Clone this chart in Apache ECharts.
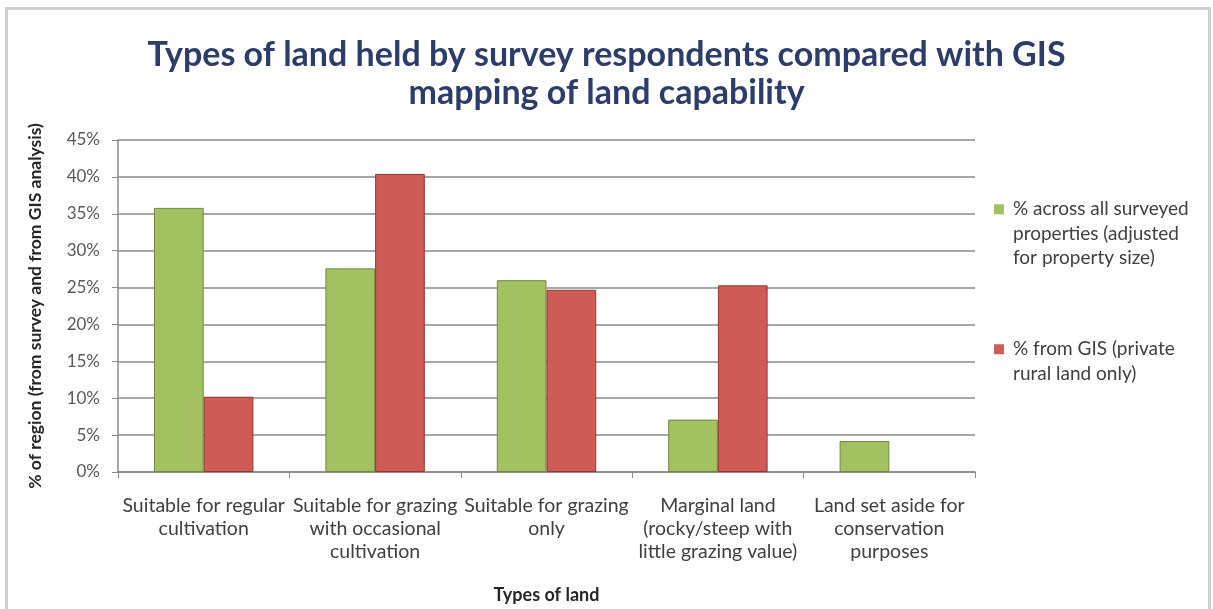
<!DOCTYPE html>
<html>
<head>
<meta charset="utf-8">
<script src="https://cdn.jsdelivr.net/npm/echarts@6/dist/echarts.min.js"></script>
<style>
  html, body { margin: 0; padding: 0; background: #ffffff; }
  #chart { width: 1213px; height: 609px; }
</style>
</head>
<body>
<div id="chart"></div>
<script>
// Land types (axis categories, wrapped the way they are printed)
const categories = [
  'Suitable for regular\ncultivation',
  'Suitable for grazing\nwith occasional\ncultivation',
  'Suitable for grazing\nonly',
  'Marginal land\n(rocky/steep with\nlittle grazing value)',
  'Land set aside for\nconservation\npurposes'
];

// Share of region, in percent
const surveyName = '% across all surveyed\nproperties (adjusted\nfor property size)';
const surveyValues = [35.8, 27.6, 26.0, 7.1, 4.2];

const gisName = '% from GIS (private\nrural land only)';
const gisValues = [10.2, 40.4, 24.7, 25.3, null];

// Value axis ticks
const yMin = 0;
const yMax = 45;
const yStep = 5;

const FONT = 'Lato, "Open Sans", sans-serif';
const GREEN = '#a3c160';
const RED = '#cf5b56';

// Legend marker: a 10px square sitting on the first text line
function markerPath(h) {
  return 'path://M0,0H10V10H0Z M0,' + (h - 0.1) + 'H0.1V' + h + 'H0Z';
}

const chart = echarts.init(document.getElementById('chart'), null, { renderer: 'canvas' });

chart.setOption({
  backgroundColor: '#ffffff',
  animation: false,
  title: {
    text: 'Types of land held by survey respondents compared with GIS\nmapping of land capability',
    left: 'center',
    top: 31,
    textStyle: {
      fontFamily: FONT,
      fontSize: 34,
      fontWeight: 'bold',
      color: '#2c3d6b',
      lineHeight: 38
    }
  },
  graphic: [{
    type: 'rect',
    shape: { x: 6.5, y: 8.5, width: 1203, height: 640 },
    style: { fill: 'none', stroke: '#cfcfcf', lineWidth: 3 },
    silent: true,
    z: -1
  }],
  legend: [{
    orient: 'vertical',
    left: 994,
    top: 197,
    padding: 0,
    itemWidth: 10,
    itemHeight: 59,
    icon: markerPath(59),
    data: [surveyName],
    itemStyle: { borderWidth: 0 },
    textStyle: { fontFamily: FONT, fontSize: 19, color: '#404040', lineHeight: 24.5, padding: [0, 0, 0, 4] }
  }, {
    orient: 'vertical',
    left: 994,
    top: 337,
    padding: 0,
    itemWidth: 10,
    itemHeight: 34.5,
    icon: markerPath(34.5),
    data: [gisName],
    itemStyle: { borderWidth: 0 },
    textStyle: { fontFamily: FONT, fontSize: 19, color: '#404040', lineHeight: 24.5, padding: [0, 0, 0, 4] }
  }],
  grid: {
    left: 118,
    right: 238,
    top: 140,
    bottom: 136,
    containLabel: false
  },
  xAxis: {
    type: 'category',
    data: categories,
    name: 'Types of land',
    nameLocation: 'middle',
    nameGap: 114,
    nameTextStyle: { fontFamily: FONT, fontSize: 18, fontWeight: 'bold', color: '#262626' },
    axisLine: { show: true, lineStyle: { color: '#8a8a8a', width: 1.5 } },
    axisTick: { show: true, length: 6, alignWithLabel: false, lineStyle: { color: '#8a8a8a' } },
    axisLabel: {
      interval: 0,
      margin: 22,
      fontFamily: FONT,
      fontSize: 19.5,
      color: '#404040',
      lineHeight: 23
    }
  },
  yAxis: {
    type: 'value',
    min: yMin,
    max: yMax,
    interval: yStep,
    name: '% of region (from survey and from GIS analysis)',
    nameLocation: 'middle',
    nameGap: 74,
    nameRotate: 90,
    nameTextStyle: { fontFamily: FONT, fontSize: 17.5, fontWeight: 'bold', color: '#262626' },
    axisLine: { show: true, lineStyle: { color: '#8a8a8a', width: 1.5 } },
    axisTick: { show: true, length: 6, lineStyle: { color: '#8a8a8a' } },
    axisLabel: {
      margin: 18,
      fontFamily: FONT,
      fontSize: 17,
      color: '#595959',
      formatter: '{value}%'
    },
    splitLine: { show: true, lineStyle: { color: '#8a8a8a', width: 1.5 } }
  },
  series: [{
    name: surveyName,
    type: 'bar',
    data: surveyValues,
    barGap: '0%',
    barCategoryGap: '42%',
    itemStyle: { color: GREEN, borderColor: '#6f8a3c', borderWidth: 1 }
  }, {
    name: gisName,
    type: 'bar',
    data: gisValues,
    barGap: '0%',
    barCategoryGap: '42%',
    itemStyle: { color: RED, borderColor: '#8e3a36', borderWidth: 1 }
  }]
});
</script>
</body>
</html>
